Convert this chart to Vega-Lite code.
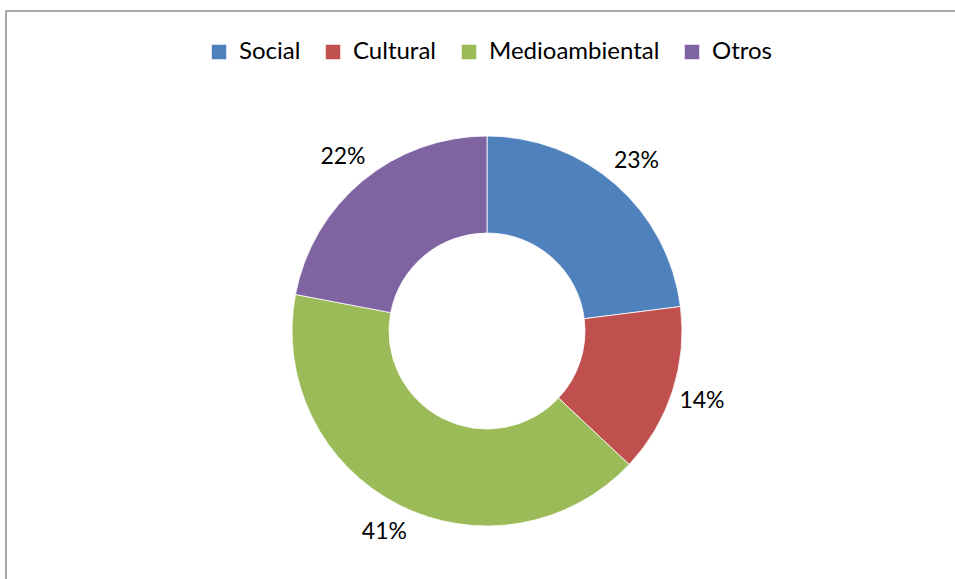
{
  "$schema": "https://vega.github.io/schema/vega-lite/v6.json",
  "autosize": {"type": "fit", "contains": "padding"},
  "width": 955,
  "height": 579,
  "padding": {"left": 6, "top": 11, "right": -6, "bottom": -6},
  "background": "white",
  "view": {"stroke": "#8c8c8c", "strokeWidth": 1.5},
  "data": {
    "values": [
      {"categoria": "Social", "valor": 23, "orden": 1},
      {"categoria": "Cultural", "valor": 14, "orden": 2},
      {"categoria": "Medioambiental", "valor": 41, "orden": 3},
      {"categoria": "Otros", "valor": 22, "orden": 4}
    ]
  },
  "transform": [
    {"joinaggregate": [{"op": "sum", "field": "valor", "as": "total"}]},
    {"calculate": "format(datum.valor / datum.total, '.0%')", "as": "etiqueta"}
  ],
  "encoding": {
    "theta": {"field": "valor", "type": "quantitative", "stack": true},
    "order": {"field": "orden", "type": "quantitative"},
    "color": {
      "field": "categoria",
      "type": "nominal",
      "sort": ["Social", "Cultural", "Medioambiental", "Otros"],
      "scale": {
        "domain": ["Social", "Cultural", "Medioambiental", "Otros"],
        "range": ["#4F81BD", "#C0504D", "#9BBB59", "#8064A2"]
      },
      "legend": {
        "orient": "none",
        "direction": "horizontal",
        "legendX": 201,
        "legendY": 29,
        "title": null,
        "symbolType": "square",
        "symbolSize": 210,
        "symbolStrokeWidth": 0,
        "labelFont": "Lato",
        "labelFontSize": 24,
        "labelColor": "#000000",
        "labelOffset": 8,
        "columnPadding": 20,
        "labelLimit": 400
      }
    }
  },
  "layer": [
    {
      "mark": {
        "type": "arc",
        "x": {"expr": "width/2 + 3.5"},
        "y": {"expr": "height/2 + 33"},
        "outerRadius": 195,
        "innerRadius": 98,
        "stroke": "white",
        "strokeWidth": 0.8
      }
    },
    {
      "mark": {
        "type": "text",
        "x": {"expr": "width/2 + 3.5"},
        "y": {"expr": "height/2 + 33"},
        "radius": 226,
        "font": "Lato",
        "fontSize": 23,
        "color": "#000000"
      },
      "encoding": {
        "text": {"field": "etiqueta", "type": "nominal"},
        "color": {"value": "#000000"}
      }
    }
  ]
}
